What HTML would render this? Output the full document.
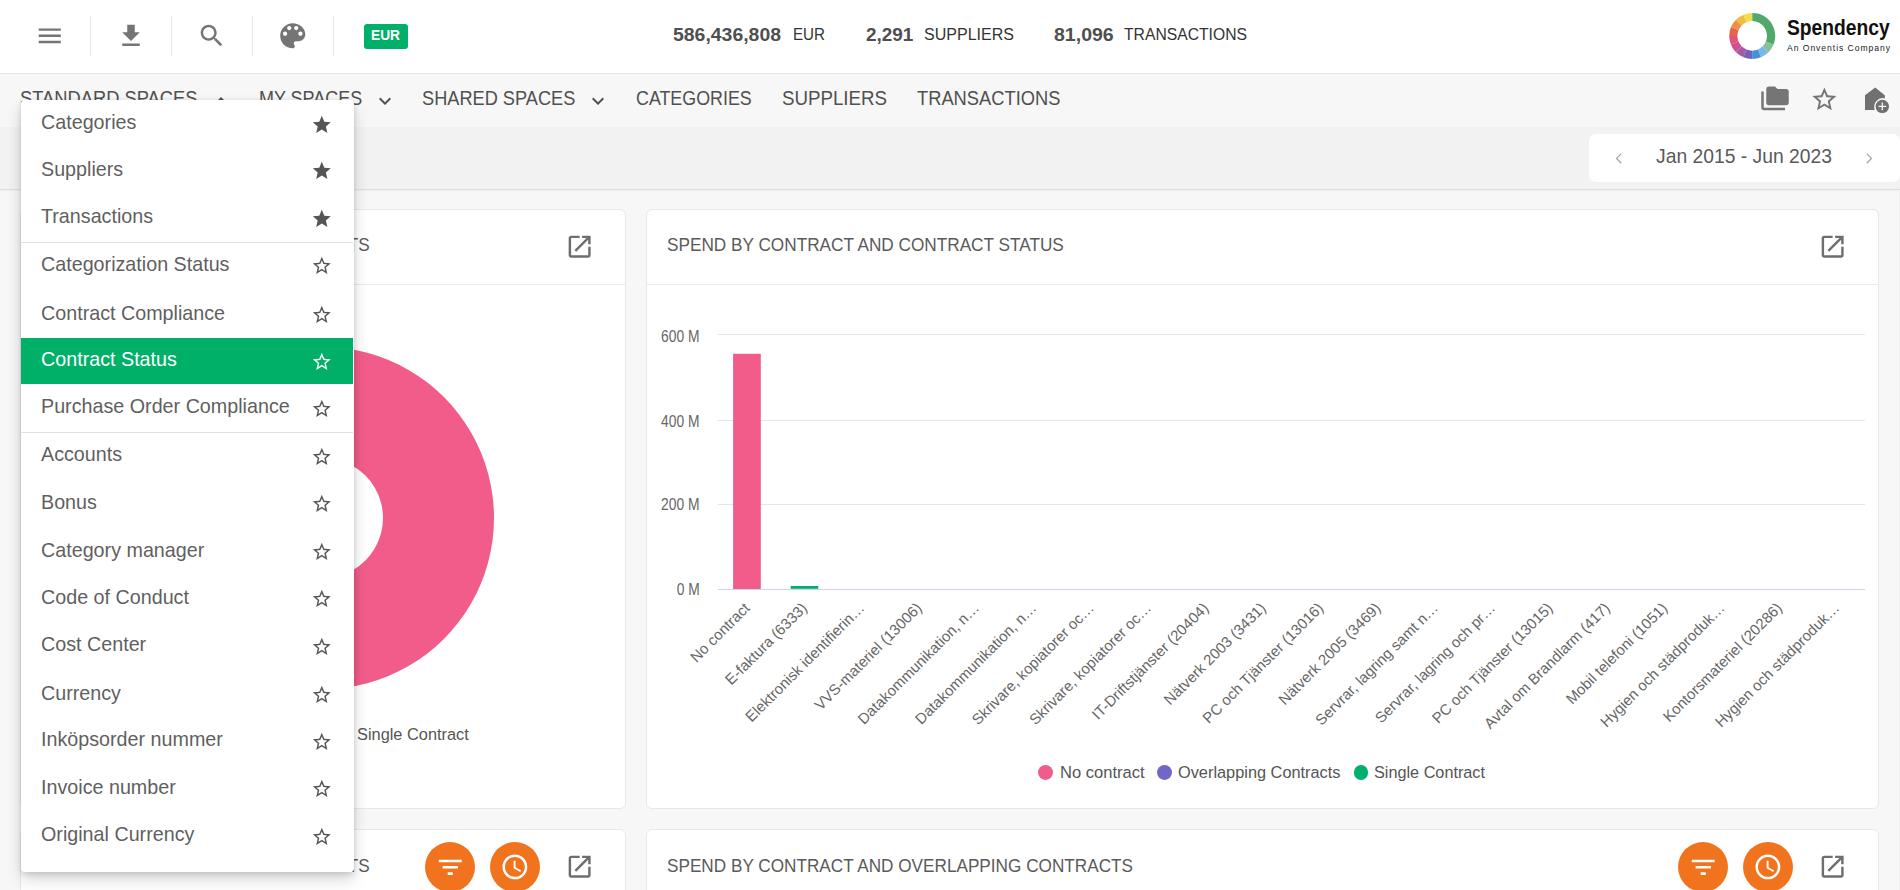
<!DOCTYPE html><html><head><meta charset="utf-8"><style>
*{box-sizing:border-box}
html,body{margin:0;padding:0}
body{width:1900px;height:890px;overflow:hidden;position:relative;background:#f7f7f7;font-family:"Liberation Sans",sans-serif}
.t{position:absolute;white-space:nowrap}
.abs{position:absolute}
</style></head><body>
<div class="abs" style="left:0;top:0;width:1900px;height:73px;background:#fff"></div>
<div class="abs" style="left:0;top:73px;width:1900px;height:1px;background:#e5e5e5"></div>
<div class="abs" style="left:90px;top:16px;width:1px;height:40px;background:#e6e6e6"></div>
<div class="abs" style="left:171px;top:16px;width:1px;height:40px;background:#e6e6e6"></div>
<div class="abs" style="left:252px;top:16px;width:1px;height:40px;background:#e6e6e6"></div>
<div class="abs" style="left:333px;top:16px;width:1px;height:40px;background:#e6e6e6"></div>
<svg style="position:absolute;left:35.25px;top:21.45px;" width="29.5" height="29.5" viewBox="0 0 24 24"><path fill="#757575" d="M3 18h18v-2H3v2zm0-5h18v-2H3v2zm0-7v2h18V6H3z"/></svg>
<svg style="position:absolute;left:116.00px;top:20.92px;" width="30" height="30" viewBox="0 0 24 24"><path fill="#757575" d="M19 9h-4V3H9v6H5l7 7 7-7zM5 18v2h14v-2H5z"/></svg>
<svg style="position:absolute;left:197.06px;top:21.06px;" width="29.5" height="29.5" viewBox="0 0 24 24"><path fill="#757575" d="M15.5 14h-.79l-.28-.27C15.41 12.59 16 11.11 16 9.5 16 5.91 13.09 3 9.5 3S3 5.91 3 9.5 5.91 16 9.5 16c1.61 0 3.09-.59 4.23-1.570l.27.28v.79l5 4.99L20.49 19l-4.99-5zm-6 0C7.01 14 5 11.99 5 9.5S7.01 5 9.5 5 14 7.01 14 9.5 11.990 14 9.5 14z"/></svg>
<svg style="position:absolute;left:276.25px;top:19.25px;" width="33.5" height="33.5" viewBox="0 0 24 24"><path fill="#757575" d="M12 3c-4.97 0-9 4.03-9 9s4.03 9 9 9c.83 0 1.5-.67 1.5-1.5 0-.39-.15-.74-.39-1.01-.23-.26-.38-.61-.38-.99 0-.83.67-1.5 1.5-1.5H16c2.76 0 5-2.24 5-5 0-4.42-4.03-8-9-8zm-5.5 9c-.83 0-1.5-.67-1.5-1.5S5.67 9 6.5 9 8 9.67 8 10.5 7.33 12 6.5 12zm3-4C8.67 8 8 7.33 8 6.5S8.67 5 9.5 5s1.5.67 1.5 1.5S10.33 8 9.5 8zm5 0c-.83 0-1.5-.67-1.5-1.5S13.67 5 14.5 5s1.5.67 1.5 1.5S15.33 8 14.5 8zm3 4c-.83 0-1.5-.67-1.5-1.5S16.67 9 17.5 9s1.5.67 1.5 1.5-.67 1.5-1.5 1.5z"/></svg>
<div class="abs" style="left:364px;top:24px;width:44px;height:25px;background:#00b068;border-radius:3px"></div>
<div class="t" style="left:371.30px;top:28.35px;font-size:14px;line-height:14px;color:#fff;font-weight:700;transform:scaleX(0.9810);transform-origin:0 0;">EUR</div>
<div class="t" style="left:673.30px;top:24.65px;font-size:19.2px;line-height:19.2px;color:#4f4f4f;font-weight:700;transform:scaleX(1.0122);transform-origin:0 0;">586,436,808</div>
<div class="t" style="left:792.60px;top:26.47px;font-size:17.4px;line-height:17.4px;color:#333;font-weight:400;transform:scaleX(0.8715);transform-origin:0 0;">EUR</div>
<div class="t" style="left:865.60px;top:24.65px;font-size:19.2px;line-height:19.2px;color:#4f4f4f;font-weight:700;transform:scaleX(0.9872);transform-origin:0 0;">2,291</div>
<div class="t" style="left:923.60px;top:26.47px;font-size:17.4px;line-height:17.4px;color:#333;font-weight:400;transform:scaleX(0.9219);transform-origin:0 0;">SUPPLIERS</div>
<div class="t" style="left:1054.00px;top:24.65px;font-size:19.2px;line-height:19.2px;color:#4f4f4f;font-weight:700;transform:scaleX(1.0173);transform-origin:0 0;">81,096</div>
<div class="t" style="left:1123.80px;top:26.47px;font-size:17.4px;line-height:17.4px;color:#333;font-weight:400;transform:scaleX(0.9028);transform-origin:0 0;">TRANSACTIONS</div>
<svg class="abs" style="left:0;top:0" width="1900" height="73"><path fill="#52a86b" d="M1752.20 12.90A23.0 23.0 0 0 1 1773.45 44.70L1765.87 41.56A14.8 14.8 0 0 0 1752.20 21.10Z"/><path fill="#86c096" d="M1773.45 44.70A23.0 23.0 0 0 1 1768.46 52.16L1762.67 46.37A14.8 14.8 0 0 0 1765.87 41.56Z"/><path fill="#79b8e6" d="M1768.46 52.16A23.0 23.0 0 0 1 1761.00 57.15L1757.86 49.57A14.8 14.8 0 0 0 1762.67 46.37Z"/><path fill="#4a8fd6" d="M1761.00 57.15A23.0 23.0 0 0 1 1752.20 58.90L1752.20 50.70A14.8 14.8 0 0 0 1757.86 49.57Z"/><path fill="#6f65b1" d="M1752.20 58.90A23.0 23.0 0 0 1 1743.40 57.15L1746.54 49.57A14.8 14.8 0 0 0 1752.20 50.70Z"/><path fill="#a85aa9" d="M1743.40 57.15A23.0 23.0 0 0 1 1735.94 52.16L1741.73 46.37A14.8 14.8 0 0 0 1746.54 49.57Z"/><path fill="#d24f8f" d="M1735.94 52.16A23.0 23.0 0 0 1 1730.95 44.70L1738.53 41.56A14.8 14.8 0 0 0 1741.73 46.37Z"/><path fill="#e5527c" d="M1730.95 44.70A23.0 23.0 0 0 1 1729.20 35.90L1737.40 35.90A14.8 14.8 0 0 0 1738.53 41.56Z"/><path fill="#e4644c" d="M1729.20 35.90A23.0 23.0 0 0 1 1730.95 27.10L1738.53 30.24A14.8 14.8 0 0 0 1737.40 35.90Z"/><path fill="#ec9145" d="M1730.95 27.10A23.0 23.0 0 0 1 1735.94 19.64L1741.73 25.43A14.8 14.8 0 0 0 1738.53 30.24Z"/><path fill="#efbd3f" d="M1735.94 19.64A23.0 23.0 0 0 1 1743.40 14.65L1746.54 22.23A14.8 14.8 0 0 0 1741.73 25.43Z"/><path fill="#f1dc4b" d="M1743.40 14.65A23.0 23.0 0 0 1 1752.20 12.90L1752.20 21.10A14.8 14.8 0 0 0 1746.54 22.23Z"/></svg>
<div class="t" style="left:1786.50px;top:17.18px;font-size:22px;line-height:22px;color:#111;font-weight:700;"><span style="display:inline-block;transform:scaleX(0.875);transform-origin:0 0">Spendency</span></div>
<div class="t" style="left:1787.00px;top:44.12px;font-size:8.6px;line-height:8.6px;color:#222;font-weight:400;letter-spacing:0.95px">An Onventis Company</div>
<div class="abs" style="left:0;top:74px;width:1900px;height:53px;background:#f7f7f7"></div>
<div class="t" style="left:20.30px;top:88.37px;font-size:20px;line-height:20px;color:#505050;font-weight:400;transform:scaleX(0.9161);transform-origin:0 0;">STANDARD SPACES</div>
<svg style="position:absolute;left:209.00px;top:88.70px;" width="24" height="24" viewBox="0 0 24 24"><path fill="#505050" d="M12 8l-6 6 1.41 1.41L12 10.83l4.59 4.58L18 14z"/></svg>
<div class="t" style="left:258.70px;top:88.37px;font-size:20px;line-height:20px;color:#505050;font-weight:400;transform:scaleX(0.8985);transform-origin:0 0;">MY SPACES</div>
<svg style="position:absolute;left:372.60px;top:88.70px;" width="24" height="24" viewBox="0 0 24 24"><path fill="#505050" d="M16.59 8.59L12 13.17 7.41 8.59 6 10l6 6 6-6z"/></svg>
<div class="t" style="left:422.20px;top:88.37px;font-size:20px;line-height:20px;color:#505050;font-weight:400;transform:scaleX(0.9094);transform-origin:0 0;">SHARED SPACES</div>
<svg style="position:absolute;left:586.30px;top:88.70px;" width="24" height="24" viewBox="0 0 24 24"><path fill="#505050" d="M16.59 8.59L12 13.17 7.41 8.59 6 10l6 6 6-6z"/></svg>
<div class="t" style="left:635.80px;top:88.37px;font-size:20px;line-height:20px;color:#505050;font-weight:400;transform:scaleX(0.8924);transform-origin:0 0;">CATEGORIES</div>
<div class="t" style="left:781.50px;top:88.37px;font-size:20px;line-height:20px;color:#505050;font-weight:400;transform:scaleX(0.9353);transform-origin:0 0;">SUPPLIERS</div>
<div class="t" style="left:917.20px;top:88.37px;font-size:20px;line-height:20px;color:#505050;font-weight:400;transform:scaleX(0.9152);transform-origin:0 0;">TRANSACTIONS</div>
<svg style="position:absolute;left:1760.00px;top:83.62px;" width="30" height="30" viewBox="0 0 24 24"><path fill="#757575" d="M3 6H1v13c0 1.1.9 2 2 2h17v-2H3V6zM21 4h-7l-2-2H7c-1.1 0-1.99.9-1.99 2L5 15c0 1.1.9 2 2 2h14c1.1 0 2-.9 2-2V6c0-1.1-.9-2-2-2z"/></svg>
<svg style="position:absolute;left:1810.40px;top:84.70px;" width="28.8" height="28.8" viewBox="0 0 24 24"><path fill="#757575" d="M22 9.24l-7.19-.62L12 2 9.19 8.63 2 9.24l5.46 4.73L5.82 21 12 17.27 18.18 21l-1.63-7.03L22 9.24zM12 15.4l-3.76 2.27 1-4.28-3.32-2.88 4.38-.38L12 6.1l1.71 4.04 4.38.38-3.32 2.88 1 4.28L12 15.4z"/></svg>
<svg class="abs" style="left:0;top:0" width="1900" height="130"><path fill="#707070" fill-rule="evenodd" d="M1865 95.2L1875.2 87.6 1884.8 95.2 1884.8 98.4A8.6 8.6 0 0 0 1874.8 110L1865 110Z"/>
<circle cx="1882.3" cy="106.4" r="6.7" fill="#707070"/><path stroke="#f6f6f6" stroke-width="1.3" d="M1882.3 102.6V110.2M1878.5 106.4H1886.1"/></svg>
<div class="abs" style="left:0;top:127px;width:1900px;height:62px;background:#f2f2f2"></div>
<div class="abs" style="left:0;top:189px;width:1900px;height:1px;background:#e0e0e0"></div><div class="abs" style="left:0;top:190px;width:1900px;height:1px;background:#efefef"></div><div class="abs" style="left:1899px;top:191px;width:1px;height:700px;background:#efefef"></div>
<div class="abs" style="left:1589.3px;top:134.3px;width:310.3px;height:47.6px;background:#fff;border-radius:7px"></div>
<div class="t" style="left:1656.00px;top:145.82px;font-size:20.3px;line-height:20.3px;color:#5a5a5a;font-weight:400;transform:scaleX(0.9517);transform-origin:0 0;">Jan 2015 - Jun 2023</div>
<svg class="abs" style="left:0;top:0" width="1900" height="190"><path fill="none" stroke="#a0a0a0" stroke-width="1.25" d="M1621.2 153.6L1616.6 158.4 1621.2 163.2M1866.8 153.6L1871.4 158.4 1866.8 163.2"/></svg>
<div class="abs" style="left:20px;top:209px;width:606px;height:600px;background:#fff;border:1px solid #e8e8e8;border-radius:6px"></div>
<div class="abs" style="left:646px;top:209px;width:1233px;height:600px;background:#fff;border:1px solid #e8e8e8;border-radius:6px"></div>
<div class="abs" style="left:20px;top:829px;width:606px;height:71px;background:#fff;border:1px solid #e8e8e8;border-radius:6px"></div>
<div class="abs" style="left:646px;top:829px;width:1233px;height:71px;background:#fff;border:1px solid #e8e8e8;border-radius:6px"></div>
<div class="abs" style="left:21px;top:284px;width:604px;height:1px;background:#ececec"></div>
<div class="abs" style="left:647px;top:284px;width:1231px;height:1px;background:#ececec"></div>
<div class="t" style="right:1530.50px;top:235.45px;font-size:19.2px;line-height:19.2px;color:#5a5a5a;font-weight:400;transform:scaleX(0.8950);transform-origin:100% 0;">SPEND BY CONTRACT AND CONTRACTS</div>
<div class="t" style="left:667.10px;top:235.45px;font-size:19.2px;line-height:19.2px;color:#5a5a5a;font-weight:400;transform:scaleX(0.8961);transform-origin:0 0;">SPEND BY CONTRACT AND CONTRACT STATUS</div>
<div class="t" style="right:1530.50px;top:855.75px;font-size:19.2px;line-height:19.2px;color:#5a5a5a;font-weight:400;transform:scaleX(0.8950);transform-origin:100% 0;">SPEND BY CONTRACT AND CONTRACTS</div>
<div class="t" style="left:667.10px;top:855.75px;font-size:19.2px;line-height:19.2px;color:#5a5a5a;font-weight:400;transform:scaleX(0.8950);transform-origin:0 0;">SPEND BY CONTRACT AND OVERLAPPING CONTRACTS</div>
<svg style="position:absolute;left:565.34px;top:232.14px;" width="29.3" height="29.3" viewBox="0 0 24 24"><path fill="#6e6e6e" d="M19 19H5V5h7V3H5c-1.11 0-2 .9-2 2v14c0 1.1.89 2 2 2h14c1.1 0 2-.9 2-2v-7h-2v7zM14 3v2h3.59l-9.83 9.83 1.41 1.41L19 6.41V10h2V3h-7z"/></svg>
<svg style="position:absolute;left:1818.34px;top:232.14px;" width="29.3" height="29.3" viewBox="0 0 24 24"><path fill="#6e6e6e" d="M19 19H5V5h7V3H5c-1.11 0-2 .9-2 2v14c0 1.1.89 2 2 2h14c1.1 0 2-.9 2-2v-7h-2v7zM14 3v2h3.59l-9.83 9.83 1.41 1.41L19 6.41V10h2V3h-7z"/></svg>
<svg style="position:absolute;left:565.34px;top:851.94px;" width="29.3" height="29.3" viewBox="0 0 24 24"><path fill="#6e6e6e" d="M19 19H5V5h7V3H5c-1.11 0-2 .9-2 2v14c0 1.1.89 2 2 2h14c1.1 0 2-.9 2-2v-7h-2v7zM14 3v2h3.59l-9.83 9.83 1.41 1.41L19 6.41V10h2V3h-7z"/></svg>
<svg style="position:absolute;left:1818.34px;top:851.94px;" width="29.3" height="29.3" viewBox="0 0 24 24"><path fill="#6e6e6e" d="M19 19H5V5h7V3H5c-1.11 0-2 .9-2 2v14c0 1.1.89 2 2 2h14c1.1 0 2-.9 2-2v-7h-2v7zM14 3v2h3.59l-9.83 9.83 1.41 1.41L19 6.41V10h2V3h-7z"/></svg>
<div class="abs" style="left:425px;top:842px;width:50px;height:50px;border-radius:50%;background:#f1731d"></div>
<div class="abs" style="left:490px;top:842px;width:50px;height:50px;border-radius:50%;background:#f1731d"></div>
<div class="abs" style="left:1678px;top:842px;width:50px;height:50px;border-radius:50%;background:#f1731d"></div>
<div class="abs" style="left:1743px;top:842px;width:50px;height:50px;border-radius:50%;background:#f1731d"></div>
<svg style="position:absolute;left:434.75px;top:851.75px;" width="30.5" height="30.5" viewBox="0 0 24 24"><path fill="#fff" d="M10 18h4v-2h-4v2zM3 6v2h18V6H3zm3 7h12v-2H6v2z"/></svg>
<svg style="position:absolute;left:1687.75px;top:851.75px;" width="30.5" height="30.5" viewBox="0 0 24 24"><path fill="#fff" d="M10 18h4v-2h-4v2zM3 6v2h18V6H3zm3 7h12v-2H6v2z"/></svg>
<svg style="position:absolute;left:500.10px;top:852.10px;" width="29.8" height="29.8" viewBox="0 0 24 24"><path fill="#fff" d="M11.99 2C6.47 2 2 6.48 2 12s4.47 10 9.99 10C17.52 22 22 17.52 22 12S17.52 2 11.99 2zM12 20c-4.42 0-8-3.58-8-8s3.58-8 8-8 8 3.58 8 8-3.58 8-8 8zm.5-13H11v6l5.25 3.15.75-1.23-4.5-2.67z"/></svg>
<svg style="position:absolute;left:1753.10px;top:852.10px;" width="29.8" height="29.8" viewBox="0 0 24 24"><path fill="#fff" d="M11.99 2C6.47 2 2 6.48 2 12s4.47 10 9.99 10C17.52 22 22 17.52 22 12S17.52 2 11.99 2zM12 20c-4.42 0-8-3.58-8-8s3.58-8 8-8 8 3.58 8 8-3.58 8-8 8zm.5-13H11v6l5.25 3.15.75-1.23-4.5-2.67z"/></svg>
<svg class="abs" style="left:0;top:0" width="900" height="890"><path fill="#f25c8a" fill-rule="evenodd" d="M323 347a171 171 0 1 0 0.01 0zM323 458a60 60 0 1 1 -0.01 0z"/></svg>
<div class="abs" style="left:170.6px;top:727.1px;width:14.8px;height:14.8px;border-radius:50%;background:#f25c8a"></div>
<div class="abs" style="left:214.6px;top:727.1px;width:14.8px;height:14.8px;border-radius:50%;background:#7068c4"></div>
<div class="abs" style="left:334.6px;top:727.1px;width:14.8px;height:14.8px;border-radius:50%;background:#00b06b"></div>
<div class="t" style="left:356.50px;top:726.89px;font-size:16.9px;line-height:16.9px;color:#555;font-weight:400;transform:scaleX(0.9680);transform-origin:0 0;">Single Contract</div>
<svg class="abs" style="left:0;top:0" width="1900" height="890"><rect x="718.0" y="334.0" width="1147.0" height="1" fill="#e6e6e6"/><rect x="718.0" y="420.0" width="1147.0" height="1" fill="#e6e6e6"/><rect x="718.0" y="504.0" width="1147.0" height="1" fill="#e6e6e6"/><rect x="718.0" y="589" width="1147.0" height="1" fill="#ccd6eb"/><rect x="733.1" y="353.8" width="27.7" height="235.2" fill="#f25c8a"/><rect x="790.7" y="586" width="27.6" height="2.8" fill="#00b06b"/><text x="750.7" y="609" transform="rotate(-45 750.7 609)" text-anchor="end" font-family="Liberation Sans" font-size="15" fill="#666">No contract</text><text x="808.0" y="609" transform="rotate(-45 808.0 609)" text-anchor="end" font-family="Liberation Sans" font-size="15" fill="#666">E-faktura (6333)</text><text x="865.4" y="609" transform="rotate(-45 865.4 609)" text-anchor="end" font-family="Liberation Sans" font-size="15" fill="#666">Elektronisk identifierin…</text><text x="922.7" y="609" transform="rotate(-45 922.7 609)" text-anchor="end" font-family="Liberation Sans" font-size="15" fill="#666">VVS-materiel (13006)</text><text x="980.1" y="609" transform="rotate(-45 980.1 609)" text-anchor="end" font-family="Liberation Sans" font-size="15" fill="#666">Datakommunikation, n…</text><text x="1037.4" y="609" transform="rotate(-45 1037.4 609)" text-anchor="end" font-family="Liberation Sans" font-size="15" fill="#666">Datakommunikation, n…</text><text x="1094.8" y="609" transform="rotate(-45 1094.8 609)" text-anchor="end" font-family="Liberation Sans" font-size="15" fill="#666">Skrivare, kopiatorer oc…</text><text x="1152.1" y="609" transform="rotate(-45 1152.1 609)" text-anchor="end" font-family="Liberation Sans" font-size="15" fill="#666">Skrivare, kopiatorer oc…</text><text x="1209.5" y="609" transform="rotate(-45 1209.5 609)" text-anchor="end" font-family="Liberation Sans" font-size="15" fill="#666">IT-Driftstjänster (20404)</text><text x="1266.8" y="609" transform="rotate(-45 1266.8 609)" text-anchor="end" font-family="Liberation Sans" font-size="15" fill="#666">Nätverk 2003 (3431)</text><text x="1324.2" y="609" transform="rotate(-45 1324.2 609)" text-anchor="end" font-family="Liberation Sans" font-size="15" fill="#666">PC och Tjänster (13016)</text><text x="1381.5" y="609" transform="rotate(-45 1381.5 609)" text-anchor="end" font-family="Liberation Sans" font-size="15" fill="#666">Nätverk 2005 (3469)</text><text x="1438.9" y="609" transform="rotate(-45 1438.9 609)" text-anchor="end" font-family="Liberation Sans" font-size="15" fill="#666">Servrar, lagring samt n…</text><text x="1496.2" y="609" transform="rotate(-45 1496.2 609)" text-anchor="end" font-family="Liberation Sans" font-size="15" fill="#666">Servrar, lagring och pr…</text><text x="1553.6" y="609" transform="rotate(-45 1553.6 609)" text-anchor="end" font-family="Liberation Sans" font-size="15" fill="#666">PC och Tjänster (13015)</text><text x="1610.9" y="609" transform="rotate(-45 1610.9 609)" text-anchor="end" font-family="Liberation Sans" font-size="15" fill="#666">Avtal om Brandlarm (417)</text><text x="1668.3" y="609" transform="rotate(-45 1668.3 609)" text-anchor="end" font-family="Liberation Sans" font-size="15" fill="#666">Mobil telefoni (1051)</text><text x="1725.6" y="609" transform="rotate(-45 1725.6 609)" text-anchor="end" font-family="Liberation Sans" font-size="15" fill="#666">Hygien och städproduk…</text><text x="1783.0" y="609" transform="rotate(-45 1783.0 609)" text-anchor="end" font-family="Liberation Sans" font-size="15" fill="#666">Kontorsmateriel (20286)</text><text x="1840.3" y="609" transform="rotate(-45 1840.3 609)" text-anchor="end" font-family="Liberation Sans" font-size="15" fill="#666">Hygien och städproduk…</text></svg>
<div class="t" style="right:1200.70px;top:329.36px;font-size:16px;line-height:16px;color:#666;font-weight:400;transform:scaleX(0.8630);transform-origin:100% 0;">600 M</div>
<div class="t" style="right:1200.70px;top:414.46px;font-size:16px;line-height:16px;color:#666;font-weight:400;transform:scaleX(0.8630);transform-origin:100% 0;">400 M</div>
<div class="t" style="right:1200.70px;top:497.46px;font-size:16px;line-height:16px;color:#666;font-weight:400;transform:scaleX(0.8630);transform-origin:100% 0;">200 M</div>
<div class="t" style="right:1200.70px;top:582.26px;font-size:16px;line-height:16px;color:#666;font-weight:400;transform:scaleX(0.8630);transform-origin:100% 0;">0 M</div>
<div class="abs" style="left:1038.1999999999998px;top:764.9px;width:14.8px;height:14.8px;border-radius:50%;background:#f25c8a"></div>
<div class="abs" style="left:1156.8999999999999px;top:764.9px;width:14.8px;height:14.8px;border-radius:50%;background:#7068c4"></div>
<div class="abs" style="left:1353.6px;top:764.9px;width:14.8px;height:14.8px;border-radius:50%;background:#00b06b"></div>
<div class="t" style="left:1059.60px;top:764.69px;font-size:16.9px;line-height:16.9px;color:#555;font-weight:400;transform:scaleX(0.9795);transform-origin:0 0;">No contract</div>
<div class="t" style="left:1177.80px;top:764.69px;font-size:16.9px;line-height:16.9px;color:#555;font-weight:400;transform:scaleX(0.9669);transform-origin:0 0;">Overlapping Contracts</div>
<div class="t" style="left:1374.40px;top:764.69px;font-size:16.9px;line-height:16.9px;color:#555;font-weight:400;transform:scaleX(0.9612);transform-origin:0 0;">Single Contract</div>
<div class="abs" style="left:20.5px;top:100px;width:333px;height:772.4px;background:#fff;border-radius:4px;box-shadow:0 8px 16px rgba(0,0,0,0.15),0 3px 6px rgba(0,0,0,0.10),0 0 4px rgba(0,0,0,0.05)"></div>
<div class="abs" style="left:21px;top:242px;width:332px;height:1px;background:#e0e0e0"></div>
<div class="abs" style="left:21px;top:432px;width:332px;height:1px;background:#e0e0e0"></div>
<div class="abs" style="left:21px;top:338.2px;width:332px;height:46.3px;background:#00b068"></div>
<div class="t" style="left:41.00px;top:112.42px;font-size:20.3px;line-height:20.3px;color:#5f5f5f;font-weight:400;transform:scaleX(0.9720);transform-origin:0 0;">Categories</div>
<svg style="position:absolute;left:310.70px;top:113.65px;" width="21.6" height="21.6" viewBox="0 0 24 24"><path fill="#555" d="M12 17.27L18.18 21l-1.64-7.03L22 9.24l-7.19-.61L12 2 9.19 8.63 2 9.24l5.46 4.73L5.82 21z"/></svg>
<div class="t" style="left:41.00px;top:159.22px;font-size:20.3px;line-height:20.3px;color:#5f5f5f;font-weight:400;transform:scaleX(0.9720);transform-origin:0 0;">Suppliers</div>
<svg style="position:absolute;left:310.70px;top:160.45px;" width="21.6" height="21.6" viewBox="0 0 24 24"><path fill="#555" d="M12 17.27L18.18 21l-1.64-7.03L22 9.24l-7.19-.61L12 2 9.19 8.63 2 9.24l5.46 4.73L5.82 21z"/></svg>
<div class="t" style="left:41.00px;top:206.42px;font-size:20.3px;line-height:20.3px;color:#5f5f5f;font-weight:400;transform:scaleX(0.9720);transform-origin:0 0;">Transactions</div>
<svg style="position:absolute;left:310.70px;top:207.65px;" width="21.6" height="21.6" viewBox="0 0 24 24"><path fill="#555" d="M12 17.27L18.18 21l-1.64-7.03L22 9.24l-7.19-.61L12 2 9.19 8.63 2 9.24l5.46 4.73L5.82 21z"/></svg>
<div class="t" style="left:41.00px;top:254.22px;font-size:20.3px;line-height:20.3px;color:#5f5f5f;font-weight:400;transform:scaleX(0.9720);transform-origin:0 0;">Categorization Status</div>
<svg style="position:absolute;left:310.70px;top:255.45px;" width="21.6" height="21.6" viewBox="0 0 24 24"><path fill="#555" d="M22 9.24l-7.19-.62L12 2 9.19 8.63 2 9.24l5.46 4.73L5.82 21 12 17.27 18.18 21l-1.63-7.03L22 9.24zM12 15.4l-3.76 2.27 1-4.28-3.32-2.88 4.38-.38L12 6.1l1.71 4.04 4.38.38-3.32 2.88 1 4.28L12 15.4z"/></svg>
<div class="t" style="left:41.00px;top:302.52px;font-size:20.3px;line-height:20.3px;color:#5f5f5f;font-weight:400;transform:scaleX(0.9720);transform-origin:0 0;">Contract Compliance</div>
<svg style="position:absolute;left:310.70px;top:303.75px;" width="21.6" height="21.6" viewBox="0 0 24 24"><path fill="#555" d="M22 9.24l-7.19-.62L12 2 9.19 8.63 2 9.24l5.46 4.73L5.82 21 12 17.27 18.18 21l-1.63-7.03L22 9.24zM12 15.4l-3.76 2.27 1-4.28-3.32-2.88 4.38-.38L12 6.1l1.71 4.04 4.38.38-3.32 2.88 1 4.28L12 15.4z"/></svg>
<div class="t" style="left:41.00px;top:349.32px;font-size:20.3px;line-height:20.3px;color:#fff;font-weight:400;transform:scaleX(0.9720);transform-origin:0 0;">Contract Status</div>
<svg style="position:absolute;left:310.70px;top:350.55px;" width="21.6" height="21.6" viewBox="0 0 24 24"><path fill="#fff" d="M22 9.24l-7.19-.62L12 2 9.19 8.63 2 9.24l5.46 4.73L5.82 21 12 17.27 18.18 21l-1.63-7.03L22 9.24zM12 15.4l-3.76 2.27 1-4.28-3.32-2.88 4.38-.38L12 6.1l1.71 4.04 4.38.38-3.32 2.88 1 4.28L12 15.4z"/></svg>
<div class="t" style="left:41.00px;top:396.42px;font-size:20.3px;line-height:20.3px;color:#5f5f5f;font-weight:400;transform:scaleX(0.9720);transform-origin:0 0;">Purchase Order Compliance</div>
<svg style="position:absolute;left:310.70px;top:397.65px;" width="21.6" height="21.6" viewBox="0 0 24 24"><path fill="#555" d="M22 9.24l-7.19-.62L12 2 9.19 8.63 2 9.24l5.46 4.73L5.82 21 12 17.27 18.18 21l-1.63-7.03L22 9.24zM12 15.4l-3.76 2.27 1-4.28-3.32-2.88 4.38-.38L12 6.1l1.71 4.04 4.38.38-3.32 2.88 1 4.28L12 15.4z"/></svg>
<div class="t" style="left:41.00px;top:444.42px;font-size:20.3px;line-height:20.3px;color:#5f5f5f;font-weight:400;transform:scaleX(0.9720);transform-origin:0 0;">Accounts</div>
<svg style="position:absolute;left:310.70px;top:445.65px;" width="21.6" height="21.6" viewBox="0 0 24 24"><path fill="#555" d="M22 9.24l-7.19-.62L12 2 9.19 8.63 2 9.24l5.46 4.73L5.82 21 12 17.27 18.18 21l-1.63-7.03L22 9.24zM12 15.4l-3.76 2.27 1-4.28-3.32-2.88 4.38-.38L12 6.1l1.71 4.04 4.38.38-3.32 2.88 1 4.28L12 15.4z"/></svg>
<div class="t" style="left:41.00px;top:492.22px;font-size:20.3px;line-height:20.3px;color:#5f5f5f;font-weight:400;transform:scaleX(0.9720);transform-origin:0 0;">Bonus</div>
<svg style="position:absolute;left:310.70px;top:493.45px;" width="21.6" height="21.6" viewBox="0 0 24 24"><path fill="#555" d="M22 9.24l-7.19-.62L12 2 9.19 8.63 2 9.24l5.46 4.73L5.82 21 12 17.27 18.18 21l-1.63-7.03L22 9.24zM12 15.4l-3.76 2.27 1-4.28-3.32-2.88 4.38-.38L12 6.1l1.71 4.04 4.38.38-3.32 2.88 1 4.28L12 15.4z"/></svg>
<div class="t" style="left:41.00px;top:539.52px;font-size:20.3px;line-height:20.3px;color:#5f5f5f;font-weight:400;transform:scaleX(0.9720);transform-origin:0 0;">Category manager</div>
<svg style="position:absolute;left:310.70px;top:540.75px;" width="21.6" height="21.6" viewBox="0 0 24 24"><path fill="#555" d="M22 9.24l-7.19-.62L12 2 9.19 8.63 2 9.24l5.46 4.73L5.82 21 12 17.27 18.18 21l-1.63-7.03L22 9.24zM12 15.4l-3.76 2.27 1-4.28-3.32-2.88 4.38-.38L12 6.1l1.71 4.04 4.38.38-3.32 2.88 1 4.28L12 15.4z"/></svg>
<div class="t" style="left:41.00px;top:587.02px;font-size:20.3px;line-height:20.3px;color:#5f5f5f;font-weight:400;transform:scaleX(0.9720);transform-origin:0 0;">Code of Conduct</div>
<svg style="position:absolute;left:310.70px;top:588.25px;" width="21.6" height="21.6" viewBox="0 0 24 24"><path fill="#555" d="M22 9.24l-7.19-.62L12 2 9.19 8.63 2 9.24l5.46 4.73L5.82 21 12 17.27 18.18 21l-1.63-7.03L22 9.24zM12 15.4l-3.76 2.27 1-4.28-3.32-2.88 4.38-.38L12 6.1l1.71 4.04 4.38.38-3.32 2.88 1 4.28L12 15.4z"/></svg>
<div class="t" style="left:41.00px;top:634.42px;font-size:20.3px;line-height:20.3px;color:#5f5f5f;font-weight:400;transform:scaleX(0.9720);transform-origin:0 0;">Cost Center</div>
<svg style="position:absolute;left:310.70px;top:635.65px;" width="21.6" height="21.6" viewBox="0 0 24 24"><path fill="#555" d="M22 9.24l-7.19-.62L12 2 9.19 8.63 2 9.24l5.46 4.73L5.82 21 12 17.27 18.18 21l-1.63-7.03L22 9.24zM12 15.4l-3.76 2.27 1-4.28-3.32-2.88 4.38-.38L12 6.1l1.71 4.04 4.38.38-3.32 2.88 1 4.28L12 15.4z"/></svg>
<div class="t" style="left:41.00px;top:682.72px;font-size:20.3px;line-height:20.3px;color:#5f5f5f;font-weight:400;transform:scaleX(0.9720);transform-origin:0 0;">Currency</div>
<svg style="position:absolute;left:310.70px;top:683.95px;" width="21.6" height="21.6" viewBox="0 0 24 24"><path fill="#555" d="M22 9.24l-7.19-.62L12 2 9.19 8.63 2 9.24l5.46 4.73L5.82 21 12 17.27 18.18 21l-1.63-7.03L22 9.24zM12 15.4l-3.76 2.27 1-4.28-3.32-2.88 4.38-.38L12 6.1l1.71 4.04 4.38.38-3.32 2.88 1 4.28L12 15.4z"/></svg>
<div class="t" style="left:41.00px;top:729.42px;font-size:20.3px;line-height:20.3px;color:#5f5f5f;font-weight:400;transform:scaleX(0.9720);transform-origin:0 0;">Inköpsorder nummer</div>
<svg style="position:absolute;left:310.70px;top:730.65px;" width="21.6" height="21.6" viewBox="0 0 24 24"><path fill="#555" d="M22 9.24l-7.19-.62L12 2 9.19 8.63 2 9.24l5.46 4.73L5.82 21 12 17.27 18.18 21l-1.63-7.03L22 9.24zM12 15.4l-3.76 2.27 1-4.28-3.32-2.88 4.38-.38L12 6.1l1.71 4.04 4.38.38-3.32 2.88 1 4.28L12 15.4z"/></svg>
<div class="t" style="left:41.00px;top:777.22px;font-size:20.3px;line-height:20.3px;color:#5f5f5f;font-weight:400;transform:scaleX(0.9720);transform-origin:0 0;">Invoice number</div>
<svg style="position:absolute;left:310.70px;top:778.45px;" width="21.6" height="21.6" viewBox="0 0 24 24"><path fill="#555" d="M22 9.24l-7.19-.62L12 2 9.19 8.63 2 9.24l5.46 4.73L5.82 21 12 17.27 18.18 21l-1.63-7.03L22 9.24zM12 15.4l-3.76 2.27 1-4.28-3.32-2.88 4.38-.38L12 6.1l1.71 4.04 4.38.38-3.32 2.88 1 4.28L12 15.4z"/></svg>
<div class="t" style="left:41.00px;top:824.32px;font-size:20.3px;line-height:20.3px;color:#5f5f5f;font-weight:400;transform:scaleX(0.9720);transform-origin:0 0;">Original Currency</div>
<svg style="position:absolute;left:310.70px;top:825.55px;" width="21.6" height="21.6" viewBox="0 0 24 24"><path fill="#555" d="M22 9.24l-7.19-.62L12 2 9.19 8.63 2 9.24l5.46 4.73L5.82 21 12 17.27 18.18 21l-1.63-7.03L22 9.24zM12 15.4l-3.76 2.27 1-4.28-3.32-2.88 4.38-.38L12 6.1l1.71 4.04 4.38.38-3.32 2.88 1 4.28L12 15.4z"/></svg>
</body></html>
